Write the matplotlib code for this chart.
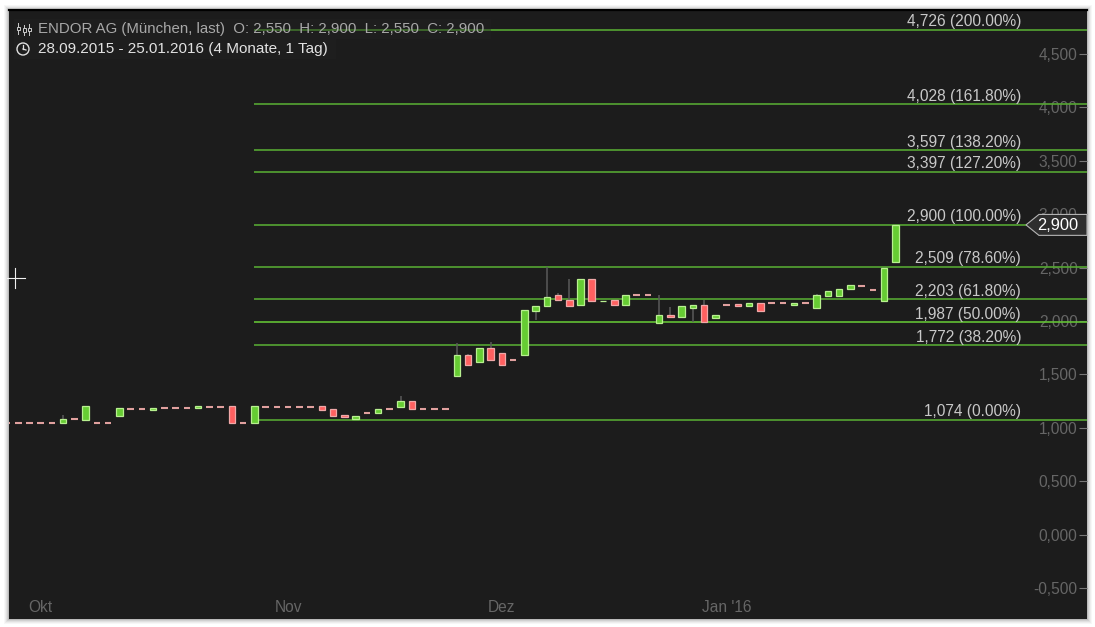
import matplotlib
matplotlib.use('Agg')
import matplotlib.pyplot as plt
from matplotlib.lines import Line2D
from matplotlib.patches import Rectangle, Circle, Polygon
from matplotlib.transforms import blended_transform_factory, IdentityTransform

plt.rcParams['font.family'] = ['Liberation Sans', 'DejaVu Sans']

# daily candles
opens = [1.045, 1.045, 1.045, 1.045, 1.045, 1.042, 1.08, 1.077, 1.045, 1.045,
         1.11, 1.173, 1.173, 1.17, 1.186, 1.186, 1.186, 1.183, 1.198, 1.198,
         1.20, 1.045, 1.042, 1.198, 1.198, 1.198, 1.198, 1.198, 1.20, 1.177,
         1.12, 1.086, 1.142, 1.136, 1.173, 1.192, 1.248, 1.173, 1.173, 1.173,
         1.486, 1.682, 1.613, 1.748, 1.704, 1.632, 1.685, 2.097, 2.141, 2.244,
         2.194, 2.154, 2.394, 2.186, 2.194, 2.154, 2.24, 2.24, 1.985, 2.057,
         2.035, 2.125, 2.151, 2.032, 2.147, 2.163, 2.138, 2.172, 2.169, 2.169,
         2.151, 2.169, 2.125, 2.231, 2.231, 2.303, 2.331, 2.294, 2.188, 2.55]
highs = [1.045, 1.045, 1.045, 1.045, 1.045, 1.124, 1.08, 1.20, 1.045, 1.045,
         1.19, 1.173, 1.173, 1.19, 1.186, 1.186, 1.186, 1.20, 1.198, 1.198,
         1.20, 1.045, 1.20, 1.198, 1.198, 1.198, 1.198, 1.198, 1.20, 1.177,
         1.12, 1.108, 1.142, 1.177, 1.173, 1.30, 1.248, 1.173, 1.173, 1.173,
         1.798, 1.695, 1.748, 1.80, 1.704, 1.632, 2.104, 2.138, 2.503, 2.266,
         2.397, 2.394, 2.394, 2.19, 2.194, 2.244, 2.24, 2.24, 2.247, 2.128,
         2.138, 2.151, 2.197, 2.057, 2.147, 2.163, 2.172, 2.172, 2.169, 2.169,
         2.172, 2.169, 2.257, 2.282, 2.303, 2.341, 2.331, 2.294, 2.50, 2.90]
lows = [1.045, 1.045, 1.045, 1.045, 1.045, 1.042, 1.08, 1.077, 1.045, 1.045,
        1.11, 1.173, 1.173, 1.17, 1.186, 1.186, 1.186, 1.183, 1.198, 1.198,
        1.042, 1.045, 1.042, 1.198, 1.198, 1.198, 1.198, 1.198, 1.17, 1.11,
        1.098, 1.086, 1.142, 1.136, 1.173, 1.192, 1.173, 1.173, 1.173, 1.173,
        1.486, 1.592, 1.613, 1.639, 1.592, 1.632, 1.685, 2.01, 2.141, 2.197,
        2.128, 2.154, 2.191, 2.186, 2.154, 2.154, 2.24, 2.24, 1.985, 2.035,
        2.035, 1.994, 1.99, 2.032, 2.147, 2.138, 2.138, 2.091, 2.169, 2.169,
        2.151, 2.169, 2.125, 2.231, 2.231, 2.303, 2.331, 2.294, 2.188, 2.55]
closes = [1.045, 1.045, 1.045, 1.045, 1.045, 1.083, 1.08, 1.20, 1.045, 1.045,
          1.19, 1.173, 1.173, 1.19, 1.186, 1.186, 1.186, 1.20, 1.198, 1.198,
          1.042, 1.045, 1.20, 1.198, 1.198, 1.198, 1.198, 1.198, 1.17, 1.11,
          1.098, 1.108, 1.142, 1.177, 1.173, 1.248, 1.173, 1.173, 1.173, 1.173,
          1.68, 1.592, 1.748, 1.639, 1.592, 1.632, 2.104, 2.138, 2.222, 2.197,
          2.141, 2.394, 2.191, 2.19, 2.154, 2.244, 2.24, 2.24, 2.057, 2.035,
          2.138, 2.151, 1.99, 2.057, 2.147, 2.138, 2.172, 2.091, 2.169, 2.169,
          2.172, 2.169, 2.247, 2.282, 2.303, 2.341, 2.331, 2.294, 2.50, 2.90]

fib_levels = [4.726, 4.028, 3.597, 3.397, 2.900, 2.509, 2.203, 1.987, 1.772, 1.074]
fib_pcts = [200.00, 161.80, 138.20, 127.20, 100.00, 78.60, 61.80, 50.00, 38.20, 0.00]
fib_start = 22

y_ticks = [-0.5, 0.0, 0.5, 1.0, 1.5, 2.0, 2.5, 3.0, 3.5, 4.0, 4.5]
month_pos = [3, 25, 44, 64]
month_labels = ['Okt', 'Nov', 'Dez', "Jan '16"]
last_price = 2.900

W, H = 1095, 627
BG = '#1c1c1c'
GREEN = '#66cc33'
GREEN_EDGE = '#b8f090'
RED = '#ff6060'
RED_EDGE = '#f0a8a8'


def px(x, y):
    # figure fraction from image pixels (y downwards)
    return x / W, 1 - y / H


fig = plt.figure(figsize=(W / 100, H / 100), dpi=100, facecolor='white')

# soft shadow round the panel
for grow, alpha in [(5, 0.03), (4, 0.04), (3, 0.05), (2, 0.07), (1, 0.10)]:
    x0, y0 = px(9 - grow, 619 + grow)
    fig.add_artist(Rectangle((x0, y0), (1078 + 2 * grow) / W, (609 + 2 * grow) / H,
                             transform=fig.transFigure, fc='black', ec='none',
                             alpha=alpha, zorder=-5))

x0, y0 = px(9, 619)
ax = fig.add_axes([x0, y0, 1078 / W, 609 / H], facecolor=BG)
ax.set_xlim(0.178, 96.04)
ax.set_ylim(-0.790, 4.912)
for side, spine in ax.spines.items():
    spine.set_visible(side == 'top')
ax.spines['top'].set_color('black')
ax.spines['top'].set_linewidth(1.6)

# fibonacci levels
for lvl, pct in zip(fib_levels, fib_pcts):
    bright = lvl == 1.987
    ax.hlines(lvl, fib_start, 97, color='#62c035' if bright else '#55a632', lw=1.2, zorder=2)
    label = f"{lvl:.3f}".replace('.', ',') + f" ({pct:.2f}%)"
    trans = blended_transform_factory(ax.transAxes, ax.transData)
    ax.annotate(label, xy=((1021 - 9) / 1078, lvl), xycoords=trans, xytext=(0, 0.3),
                textcoords='offset points', ha='right', va='bottom',
                color='#c8c8c8', fontsize=11.2, zorder=6)

# candles
xs = list(range(len(opens)))
ax.vlines(xs, lows, highs, color='#5a5a5a', lw=1.1, zorder=3)
for i in xs:
    o, c = opens[i], closes[i]
    if c == o:
        ax.hlines(o, i - 0.29, i + 0.29, color='#e0a09e', lw=1.5, zorder=4)
        continue
    up = c > o
    ax.bar(i, abs(c - o), bottom=min(o, c), width=0.58,
           color=GREEN if up else RED, edgecolor=GREEN_EDGE if up else RED_EDGE,
           linewidth=0.9, zorder=4)

ax.yaxis.tick_right()
ax.set_yticks(y_ticks)
ax.set_yticklabels([f"{t:.3f}".replace('.', ',') for t in y_ticks], ha='right')
ax.tick_params(axis='y', direction='in', length=5.5, width=0.8, color='#777777',
               labelcolor='#666666', labelsize=11.2, pad=-6.8)
ax.set_xticks(month_pos)
ax.set_xticklabels(month_labels)
ax.tick_params(axis='x', length=0, labelcolor='#666666', labelsize=11.2, pad=-13.5)

# last price tag
tx = 1 - 61 / 1078
tag = Polygon([(tx, last_price), (tx + 0.012, last_price + 0.098), (1, last_price + 0.098),
               (1, last_price - 0.098), (tx + 0.012, last_price - 0.098)],
              closed=True, transform=blended_transform_factory(ax.transAxes, ax.transData),
              fc='#2e2e2e', ec='#b5b5b5', lw=0.8, zorder=7, clip_on=False)
ax.add_patch(tag)
ax.text(1 - 9 / 1078, last_price - 0.01, f"{last_price:.3f}".replace('.', ','),
        transform=blended_transform_factory(ax.transAxes, ax.transData),
        ha='right', va='center', color='white', fontsize=11.8, zorder=8)

# header boxes and text
for bx, by, bw, bh in [(14, 39, 477, 20), (14, 59, 322, 20)]:
    rx, ry = px(bx, by)
    fig.add_artist(Rectangle((rx, ry), bw / W, bh / H, transform=fig.transFigure,
                             fc='#222222', ec='none', alpha=0.4, zorder=5))
hx, hy = px(38, 29.5)
fig.text(hx, hy, 'ENDOR AG (München, last)  O: 2,550  H: 2,900  L: 2,550  C: 2,900',
         color='#a8a8a8', fontsize=10.8, va='center', zorder=6)
hx, hy = px(38, 49.5)
fig.text(hx, hy, '28.09.2015 - 25.01.2016 (4 Monate, 1 Tag)',
         color='#e2e2e2', fontsize=11, va='center', zorder=6)

# header icons, drawn in figure coordinates
def seg(x1, y1, x2, y2, color='#cccccc', lw=0.9):
    a, b = px(x1, y1), px(x2, y2)
    fig.add_artist(Line2D([a[0], b[0]], [a[1], b[1]], transform=fig.transFigure,
                          color=color, lw=lw, zorder=7))


for cx, top, bot in [(18, 23, 34), (24, 25, 35), (29, 24, 35)]:
    seg(cx, top, cx, bot, lw=0.7)
    a = px(cx - 1.5, (top + bot) / 2 - 2)
    fig.add_artist(Rectangle(a, 3 / W, -4 / H, transform=fig.transFigure,
                             fc=BG, ec='#cccccc', lw=0.7, zorder=8))
fig.add_artist(Circle((23, H - 49), 6, transform=IdentityTransform(), fc='none',
                      ec='#e0e0e0', lw=1.0, zorder=7))
seg(23, 45, 23, 49, color='#e0e0e0')
seg(23, 49, 26, 50, color='#e0e0e0')

# mouse crosshair left in the screenshot
seg(7, 278, 25, 278, color='#f0f0f0', lw=0.8)
seg(15, 268, 15, 288, color='#f0f0f0', lw=0.8)

fig.savefig('out.png', dpi=100, facecolor='white')
